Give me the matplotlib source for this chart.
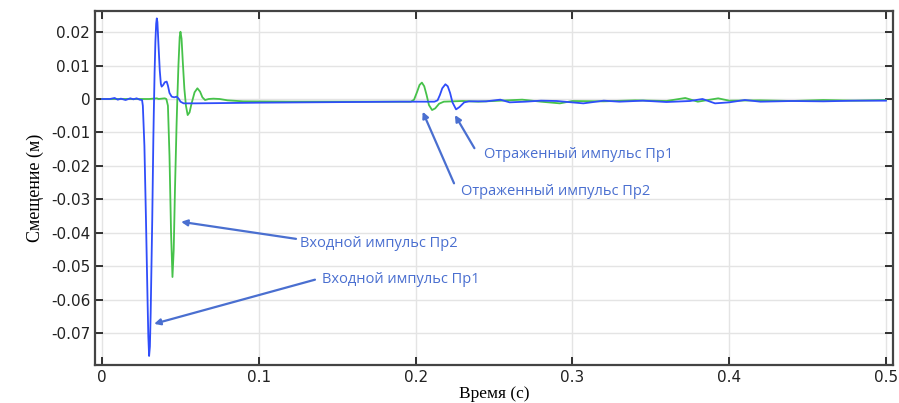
import numpy as np
import matplotlib
matplotlib.use("Agg")
import matplotlib.pyplot as plt
from matplotlib.ticker import FuncFormatter

# probe 1 (blue) - time (s), displacement (m)
t_pr1 = [0.000, 0.005, 0.008, 0.010, 0.012, 0.015, 0.018, 0.020, 0.022, 0.024,
         0.0255, 0.026, 0.027, 0.028, 0.029, 0.0295, 0.030, 0.0305, 0.031, 0.032,
         0.0327, 0.033, 0.0335, 0.034, 0.0345, 0.0349, 0.0353, 0.036, 0.0368, 0.0375,
         0.038, 0.039, 0.040, 0.0412, 0.042, 0.043, 0.0444, 0.046, 0.0476, 0.049,
         0.050, 0.052, 0.06, 0.08, 0.10, 0.13, 0.16, 0.19, 0.21, 0.212,
         0.214, 0.2155, 0.217, 0.219, 0.2205, 0.222, 0.2235, 0.2258, 0.228, 0.231,
         0.234, 0.245, 0.254, 0.26, 0.27, 0.28, 0.29, 0.307, 0.32, 0.33,
         0.345, 0.36, 0.375, 0.383, 0.391, 0.40, 0.41, 0.42, 0.44, 0.46,
         0.48, 0.50]
u_pr1 = [0.0000, 0.0000, 0.0003, -0.0002, 0.0001, -0.0003, 0.0002, -0.0001, 0.0002, -0.0002,
         -0.0003, -0.002, -0.014, -0.036, -0.060, -0.071, -0.0768, -0.074, -0.064, -0.036,
         -0.012, -0.004, 0.008, 0.017, 0.0225, 0.0241, 0.023, 0.016, 0.0085, 0.0045,
         0.0037, 0.0042, 0.0050, 0.0052, 0.0040, 0.0018, 0.0007, 0.0005, 0.0007, 0.0000,
         -0.0008, -0.0013, -0.0013, -0.0012, -0.0011, -0.0010, -0.0009, -0.0008, -0.0008, -0.0008,
         -0.0004, 0.0012, 0.0032, 0.0044, 0.0038, 0.0018, -0.0010, -0.0031, -0.0024, -0.0010,
         -0.0007, -0.0007, -0.0002, -0.0010, -0.0008, -0.0005, -0.0006, -0.0013, -0.0005, -0.0008,
         -0.0005, -0.0009, -0.0006, 0.0000, -0.0013, -0.0010, -0.0003, -0.0008, -0.0006, -0.0007,
         -0.0005, -0.0005]

# probe 2 (green)
t_pr2 = [0.000, 0.030, 0.0349, 0.036, 0.038, 0.040, 0.041, 0.042, 0.043, 0.044,
         0.0449, 0.0457, 0.0465, 0.0475, 0.048, 0.0487, 0.0495, 0.0500, 0.0507, 0.0515,
         0.0525, 0.0535, 0.0546, 0.0558, 0.057, 0.059, 0.0608, 0.0625, 0.064, 0.0657,
         0.068, 0.071, 0.075, 0.08, 0.09, 0.12, 0.16, 0.197, 0.199, 0.201,
         0.2025, 0.204, 0.2055, 0.207, 0.2085, 0.2105, 0.2125, 0.215, 0.218, 0.23,
         0.24, 0.268, 0.28, 0.292, 0.30, 0.32, 0.34, 0.36, 0.372, 0.38,
         0.393, 0.40, 0.42, 0.44, 0.46, 0.48, 0.50]
u_pr2 = [0.0000, 0.0000, 0.0002, 0.0000, 0.0001, 0.0002, 0.0000, -0.002, -0.017, -0.040,
         -0.0532, -0.045, -0.027, -0.008, 0.000, 0.010, 0.0185, 0.0201, 0.018, 0.011,
         0.003, -0.002, -0.0048, -0.0040, -0.0015, 0.0020, 0.0032, 0.0022, 0.0005, -0.0003,
         0.0000, 0.0001, 0.0000, -0.0004, -0.0007, -0.0008, -0.0008, -0.0008, -0.0002, 0.0022,
         0.0042, 0.0049, 0.0038, 0.0012, -0.0018, -0.0033, -0.0028, -0.0014, -0.0008, -0.0006,
         -0.0008, -0.0002, -0.0008, -0.0013, -0.0006, -0.0007, -0.0004, -0.0006, 0.0003, -0.0008,
         0.0002, -0.0005, -0.0004, -0.0006, -0.0003, -0.0005, -0.0003]

x_ticks = [0, 0.1, 0.2, 0.3, 0.4, 0.5]
y_ticks = [0.02, 0.01, 0, -0.01, -0.02, -0.03, -0.04, -0.05, -0.06, -0.07]

# annotations: text, arrow tip, arrow tail
notes = [
    ("Входной импульс Пр2", (0.0504, -0.0367), (0.1237, -0.0418)),
    ("Входной импульс Пр1", (0.0332, -0.0672), (0.1358, -0.0540)),
    ("Отраженный импульс Пр1", (0.2251, -0.0048), (0.2375, -0.0147)),
    ("Отраженный импульс Пр2", (0.2045, -0.0038), (0.2245, -0.0252)),
]
text_pos = [(0.1265, -0.0432), (0.1400, -0.0540), (0.2435, -0.0165), (0.2290, -0.0275)]

fig = plt.figure(figsize=(8.99, 4.03), dpi=100)
ax = fig.add_axes([0.1057, 0.0943, 0.8876, 0.8784])

ax.plot(t_pr1, u_pr1, color="#2f4dfa", lw=1.3, zorder=3)
ax.plot(t_pr2, u_pr2, color="#46c24a", lw=1.3, zorder=2)

ax.set_xlim(-0.0045, 0.5045)
ax.set_ylim(-0.0795, 0.0263)
ax.set_xticks(x_ticks)
ax.set_yticks(y_ticks)

fmt = FuncFormatter(lambda v, p: "0" if abs(v) < 1e-9 else ("%g" % round(v, 3)))
ax.xaxis.set_major_formatter(fmt)
ax.yaxis.set_major_formatter(fmt)

ax.grid(True, color="#e4e4e4", lw=1.0)
ax.set_axisbelow(True)
ax.tick_params(direction="in", length=6, width=1.3, top=True, right=True,
               labelsize=11, colors="#222222")
for s in ax.spines.values():
    s.set_linewidth(1.6)
    s.set_color("#444444")

ax.set_ylabel("Смещение (м)", family="Liberation Serif", fontsize=13, labelpad=5)
ax.set_xlabel("Время (с)", family="Liberation Serif", fontsize=12.5, labelpad=1)

for (txt, tip, tail), (tx, ty) in zip(notes, text_pos):
    ax.annotate("", xy=tip, xytext=tail,
                arrowprops=dict(arrowstyle="-|>", color="#4a6fd0", lw=1.6,
                                mutation_scale=9, shrinkA=0, shrinkB=0))
    ax.text(tx, ty, txt, color="#4a6fd0", fontsize=10.5, family="Open Sans",
            va="center", ha="left")

fig.savefig("out.png", dpi=100)
